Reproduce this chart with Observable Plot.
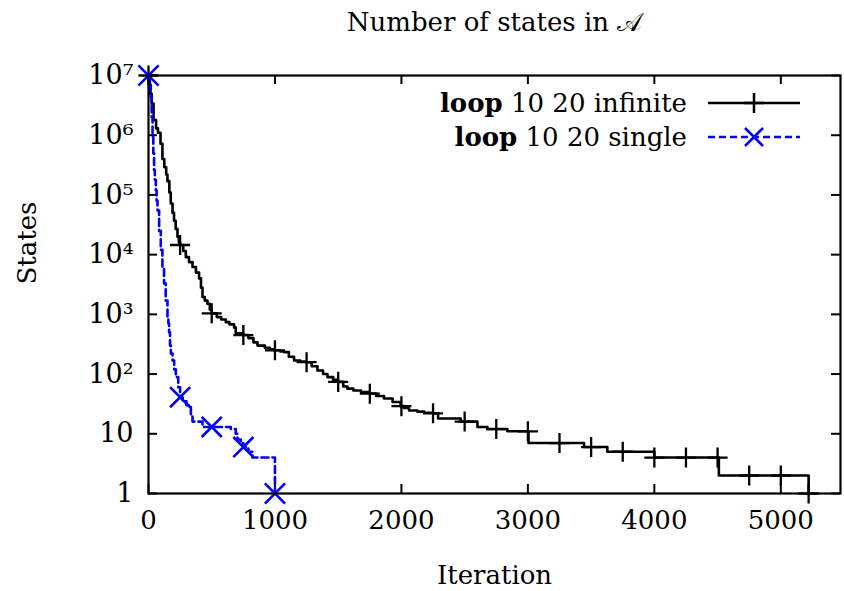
<!DOCTYPE html>
<html><head><meta charset="utf-8">
<script src="https://cdn.jsdelivr.net/npm/d3@7"></script>
<script src="https://cdn.jsdelivr.net/npm/@observablehq/plot@0.6"></script>
<style>
body{margin:0;background:#fff;}
#wrap{position:relative;width:844px;height:591px;font-family:"DejaVu Serif",serif;color:#000;}
#wrap svg.plot{display:block;}
.lg{position:absolute;font-size:26px;line-height:34px;white-space:nowrap;}
.sw{position:absolute;overflow:visible;}
</style></head><body><div id="wrap"></div>
<script>
// ---- data ----
const titleText = "Number of states in 𝒜";
const xLabel = "Iteration";
const yLabel = "States";
const seriesNames = ["10 20 infinite", "10 20 single"];

const xTicks = [0, 1000, 2000, 3000, 4000, 5000];
const yTicks = [1, 10, 100, 1e3, 1e4, 1e5, 1e6, 1e7];

// "loop 10 20 infinite" (step curve)
const infIter = [0, 10, 25, 40, 60, 75, 95, 110, 125, 140, 150, 165, 176, 190, 202, 215, 229, 240, 250, 275, 295, 320, 348, 375, 400, 415, 427, 445, 466, 485, 500, 540, 575, 611, 640, 677, 690, 750, 790, 830, 862, 920, 960, 993, 1040, 1072, 1110, 1151, 1200, 1250, 1290, 1336, 1380, 1415, 1460, 1500, 1540, 1573, 1620, 1680, 1750, 1800, 1862, 1930, 1994, 2020, 2060, 2126, 2180, 2250, 2290, 2469, 2601, 2680, 2838, 3005, 3444, 3628, 4000, 4510, 5220];
const infStates = [1e7, 5e6, 3.4e6, 1.8e6, 1.3e6, 1.1e6, 7.2e5, 4e5, 2.9e5, 2.2e5, 1.7e5, 1.1e5, 7.2e4, 5e4, 3.7e4, 2.7e4, 2e4, 1.6e4, 1.45e4, 1.15e4, 9100, 7500, 6200, 5000, 4000, 2800, 1950, 1700, 1500, 1200, 1040, 900, 820, 740, 680, 600, 480, 450, 400, 340, 300, 275, 260, 250, 240, 233, 195, 169, 162, 158, 135, 115, 100, 89, 80, 74, 62, 57, 53, 50, 47, 43, 39, 34, 29, 27, 24.5, 23.5, 22.5, 22, 18, 16, 13, 12, 11, 7, 6, 5, 4, 2, 1];
const infMarkIter = [0, 250, 500, 750, 1000, 1250, 1500, 1750, 2000, 2250, 2500, 2750, 3000, 3250, 3500, 3750, 4000, 4250, 4500, 4750, 5000, 5220];

// "loop 10 20 single" (step curve)
const sglIter = [0, 10, 18, 25, 32, 38, 44, 50, 58, 64, 71, 84, 97, 110, 123, 136, 150, 157, 163, 170, 177, 190, 203, 216, 235, 250, 270, 300, 321, 335, 348, 427, 650, 690, 704, 730, 750, 790, 822, 1000];
const sglStates = [1e7, 7e6, 4.4e6, 2e6, 9.3e5, 5e5, 2.6e5, 1.8e5, 1.2e5, 8e4, 5.5e4, 2.5e4, 1.2e4, 6000, 3300, 1700, 900, 700, 500, 300, 220, 169, 120, 89, 60, 41, 35, 30, 28, 20, 16, 13, 12, 10, 8, 7, 6, 5, 4, 1];
const sglMarkIter = [0, 250, 500, 750, 1000];

// ---- build ----
const W = 844, H = 591, mL = 148, mR = 4, mT = 75, mB = 98;
const fw = W - mL - mR, fh = H - mT - mB;
const FONT = "DejaVu Serif";
const inf = infIter.map((x, i) => ({x, y: infStates[i]}));
const sgl = sglIter.map((x, i) => ({x, y: sglStates[i]}));
const stepAt = (data, m) => { let v = data[0].y; for (const d of data) if (d.x <= m) v = d.y; return v; };
const infMarks = infMarkIter.map(m => ({x: m, y: stepAt(inf, m)}));
const sglMarks = sglMarkIter.map(m => ({x: m, y: stepAt(sgl, m)}));
const supDigits = "⁰¹²³⁴⁵⁶⁷⁸⁹";
const fmtY = d => { const e = Math.round(Math.log10(d)); return e === 0 ? "1" : e === 1 ? "10" : "10" + String(e).split("").map(c => supDigits[+c]).join(""); };
const BLUE = "#0000ff";
const DASH = "7,4";

const plot = Plot.plot({
  width: W, height: H,
  marginLeft: mL, marginRight: mR, marginTop: mT, marginBottom: mB,
  style: {fontFamily: FONT, fontSize: "26px", background: "white", color: "black", overflow: "visible"},
  x: {domain: [0, 5472]},
  y: {type: "log", domain: [1, 1e7]},
  marks: [
    Plot.axisX({ticks: xTicks, tickSize: 0, tickPadding: 17, tickFormat: d => String(d), label: null, fontSize: 26}),
    Plot.axisY({ticks: yTicks, tickSize: 0, tickPadding: 15, tickFormat: fmtY, label: null, fontSize: 27}),
    Plot.ruleX(xTicks, {x: d => d, insetTop: fh - 9, stroke: "black", strokeWidth: 2}),
    Plot.ruleX(xTicks, {x: d => d, insetBottom: fh - 9, stroke: "black", strokeWidth: 2}),
    Plot.ruleY(yTicks, {y: d => d, insetRight: fw - 9, stroke: "black", strokeWidth: 2}),
    Plot.ruleY(yTicks, {y: d => d, insetLeft: fw - 9, stroke: "black", strokeWidth: 2}),
    Plot.line(inf, {x: "x", y: "y", curve: "step-after", stroke: "black", strokeWidth: 2.6}),
    Plot.dot(infMarks, {x: "x", y: "y", symbol: "plus", r: 6.5, stroke: "black", strokeWidth: 2.3}),
    Plot.line(sgl, {x: "x", y: "y", curve: "step-after", stroke: BLUE, strokeWidth: 2.6, strokeDasharray: DASH}),
    Plot.dot(sglMarks, {x: "x", y: "y", symbol: "times", r: 9.2, stroke: BLUE, strokeWidth: 2.6}),
    Plot.frame({stroke: "black", strokeWidth: 2.2}),
    Plot.text([titleText], {frameAnchor: "top", dy: -53, lineAnchor: "middle", fontSize: 26}),
    Plot.text([xLabel], {frameAnchor: "bottom", dy: 82, lineAnchor: "middle", fontSize: 26}),
    Plot.text([yLabel], {frameAnchor: "left", dx: -121, rotate: -90, lineAnchor: "middle", fontSize: 26})
  ]
});
plot.classList.add("plot");
const wrap = document.getElementById("wrap");
wrap.appendChild(plot);

// legend (top-right inside the frame)
const rows = [
  {top: 86, name: seriesNames[0], stroke: "black", dash: null, sym: "plus", sw: 2.6},
  {top: 120, name: seriesNames[1], stroke: BLUE, dash: DASH, sym: "times", sw: 2.6}
];
for (const r of rows) {
  const t = document.createElement("div");
  t.className = "lg";
  t.style.right = (W - 687) + "px";
  t.style.top = r.top + "px";
  t.innerHTML = "<b>loop</b> " + r.name;
  wrap.appendChild(t);
  const ns = "http://www.w3.org/2000/svg";
  const s = document.createElementNS(ns, "svg");
  s.setAttribute("class", "sw");
  s.setAttribute("width", 94); s.setAttribute("height", 34);
  s.style.left = "707px"; s.style.top = r.top + "px";
  const l = document.createElementNS(ns, "line");
  l.setAttribute("x1", 1); l.setAttribute("x2", 93); l.setAttribute("y1", 17); l.setAttribute("y2", 17);
  l.setAttribute("stroke", r.stroke); l.setAttribute("stroke-width", r.sw);
  if (r.dash) l.setAttribute("stroke-dasharray", r.dash);
  s.appendChild(l);
  const p = document.createElementNS(ns, "path");
  p.setAttribute("d", r.sym === "plus" ? "M47,7V27M37,17H57" : "M38,8L56,26M56,8L38,26");
  p.setAttribute("stroke", r.stroke); p.setAttribute("stroke-width", 2.5); p.setAttribute("fill", "none");
  s.appendChild(p);
  wrap.appendChild(s);
}
</script></body></html>
